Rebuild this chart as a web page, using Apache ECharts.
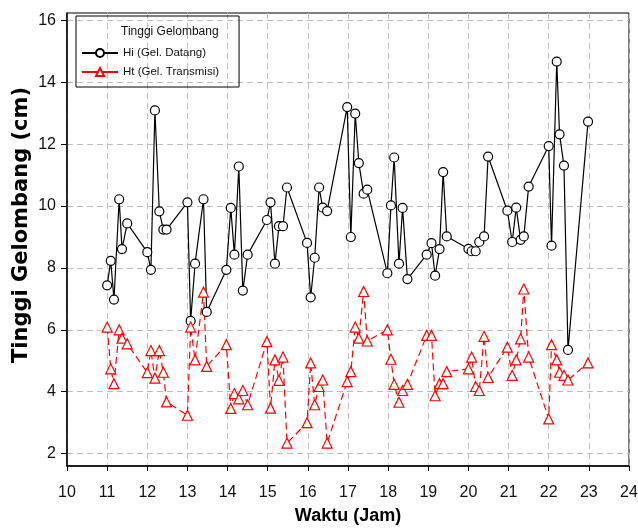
<!DOCTYPE html>
<html>
<head>
<meta charset="utf-8">
<script src="https://cdn.jsdelivr.net/npm/echarts@6/dist/echarts.min.js"></script>
<style>
html, body { margin: 0; padding: 0; background: #fff; }
#chart { width: 638px; height: 530px; }
</style>
</head>
<body>
<div id="chart"></div>
<script>
// waktu pengukuran (jam)
var waktu = [
    11.0, 11.09, 11.17, 11.3, 11.37, 11.5,
    12.0, 12.09, 12.19, 12.3, 12.4, 12.48,
    13.0, 13.08, 13.19, 13.4, 13.48,
    13.97, 14.08, 14.17, 14.28, 14.38, 14.5,
    14.98, 15.07, 15.18, 15.28, 15.38, 15.48,
    15.98, 16.07, 16.17, 16.28, 16.37, 16.48,
    16.98, 17.07, 17.18, 17.27, 17.39, 17.48,
    17.98, 18.07, 18.15, 18.27, 18.36, 18.48,
    18.96, 19.08, 19.17, 19.28, 19.37, 19.46,
    20.0, 20.08, 20.18, 20.27, 20.39, 20.49,
    20.97, 21.09, 21.19, 21.3, 21.38, 21.5,
    22.0, 22.07, 22.2, 22.27, 22.38, 22.48,
    22.98
];
// Hi - gelombang datang (cm)
var hi = [
    7.44, 8.23, 6.98, 10.22, 8.61, 9.44,
    8.51, 7.94, 13.09, 9.83, 9.24, 9.24,
    10.12, 6.29, 8.14, 10.22, 6.58,
    7.94, 9.94, 8.43, 11.28, 7.27, 8.43,
    9.55, 10.12, 8.14, 9.35, 9.35, 10.6,
    8.81, 7.05, 8.33, 10.6, 9.95, 9.84,
    13.2, 9.0, 12.99, 11.39, 10.4, 10.53,
    7.83, 10.02, 11.57, 8.14, 9.94, 7.64,
    8.43, 8.8, 7.75, 8.61, 11.1, 9.02,
    8.62, 8.54, 8.54, 8.84, 9.02, 11.6,
    9.85, 8.84, 9.95, 8.91, 9.02, 10.63,
    11.94, 8.72, 14.67, 12.32, 11.31, 5.35,
    12.73
];
// Ht - gelombang transmisi (cm)
var ht = [
    6.09, 4.74, 4.26, 6.0, 5.73, 5.55,
    4.62, 5.33, 4.44, 5.33, 4.63, 3.67,
    3.24, 6.09, 5.03, 7.22, 4.82,
    5.52, 3.46, 3.94, 3.77, 4.04, 3.58,
    5.62, 3.47, 5.03, 4.37, 5.12, 2.34,
    3.0, 4.93, 3.58, 4.17, 4.38, 2.34,
    4.33, 4.65, 6.09, 5.73, 7.24, 5.64,
    6.0, 5.05, 4.24, 3.66, 4.04, 4.24,
    5.82, 5.82, 3.87, 4.26, 4.26, 4.65,
    4.74, 5.12, 4.17, 4.04, 5.79, 4.46,
    5.44, 4.53, 5.03, 5.71, 7.32, 5.12,
    3.12, 5.52, 5.03, 4.63, 4.53, 4.38,
    4.93
];
var yTicks = [2, 4, 6, 8, 10, 12, 14, 16];

var dataHi = [], dataHt = [];
for (var i = 0; i < waktu.length; i++) {
    dataHi.push([waktu[i], hi[i]]);
    dataHt.push([waktu[i], ht[i]]);
}

var chart = echarts.init(document.getElementById('chart'));
var option = {
    animation: false,
    textStyle: { fontFamily: 'Liberation Sans' },
    title: {
        text: 'Tinggi Gelombang',
        left: 121,
        top: 26,
        padding: 0,
        textStyle: { fontSize: 12, fontWeight: 'normal', color: '#111', fontFamily: 'Liberation Sans' }
    },
    // judul sumbu y
    graphic: [{
        type: 'text',
        x: 22,
        y: 225,
        rotation: Math.PI / 2,
        style: {
            text: 'Tinggi Gelombang (cm)',
            fill: '#000',
            font: 'bold 21px "DejaVu Sans"',
            textAlign: 'center',
            textVerticalAlign: 'middle'
        }
    }],
    legend: {
        orient: 'vertical',
        left: 76,
        top: 16,
        padding: [31, 20, 9, 5],
        itemGap: 7,
        itemWidth: 36,
        itemHeight: 10,
        borderColor: '#000',
        borderWidth: 1,
        lineStyle: { type: 'solid' },
        textStyle: { fontSize: 11.5, color: '#111', fontFamily: 'Liberation Sans' },
        data: ['Hi (Gel. Datang)', 'Ht (Gel. Transmisi)']
    },
    grid: {
        left: 67,
        right: 9,
        top: 13,
        bottom: 64,
        outerBoundsMode: 'none',
        show: true,
        borderColor: '#000',
        borderWidth: 1
    },
    xAxis: {
        type: 'value',
        min: 10,
        max: 24,
        interval: 1,
        name: 'Waktu (Jam)',
        nameLocation: 'middle',
        nameGap: 41,
        nameTextStyle: { fontSize: 18, fontWeight: 'bold', color: '#000', fontFamily: 'Liberation Sans' },
        axisLine: { lineStyle: { color: '#000', width: 1.5 } },
        axisTick: { length: 5, lineStyle: { color: '#000' } },
        axisLabel: { fontSize: 16, color: '#111', margin: 19 },
        splitLine: { lineStyle: { color: '#bdbdbd', type: [6, 4], width: 1 } }
    },
    yAxis: {
        type: 'value',
        min: 1.6,
        max: 16.24,
        axisLine: { lineStyle: { color: '#000', width: 1.5 } },
        axisTick: { length: 6, lineStyle: { color: '#000' }, customValues: yTicks },
        axisLabel: { fontSize: 16, color: '#111', margin: 11, customValues: yTicks },
        splitLine: { lineStyle: { color: '#bdbdbd', type: [6, 4], width: 1 } }
    },
    series: [
        {
            name: 'Hi (Gel. Datang)',
            type: 'line',
            data: dataHi,
            symbol: 'circle',
            symbolSize: 9,
            lineStyle: { color: '#000', width: 1.2 },
            itemStyle: { color: '#fff', borderColor: '#000', borderWidth: 1.2 }
        },
        {
            name: 'Ht (Gel. Transmisi)',
            type: 'line',
            data: dataHt,
            symbol: 'triangle',
            symbolSize: 10,
            lineStyle: { color: '#f00', width: 1.2, type: [7, 4] },
            itemStyle: { color: '#fff', borderColor: '#f00', borderWidth: 1.2 }
        }
    ]
};
chart.setOption(option);
</script>
</body>
</html>
